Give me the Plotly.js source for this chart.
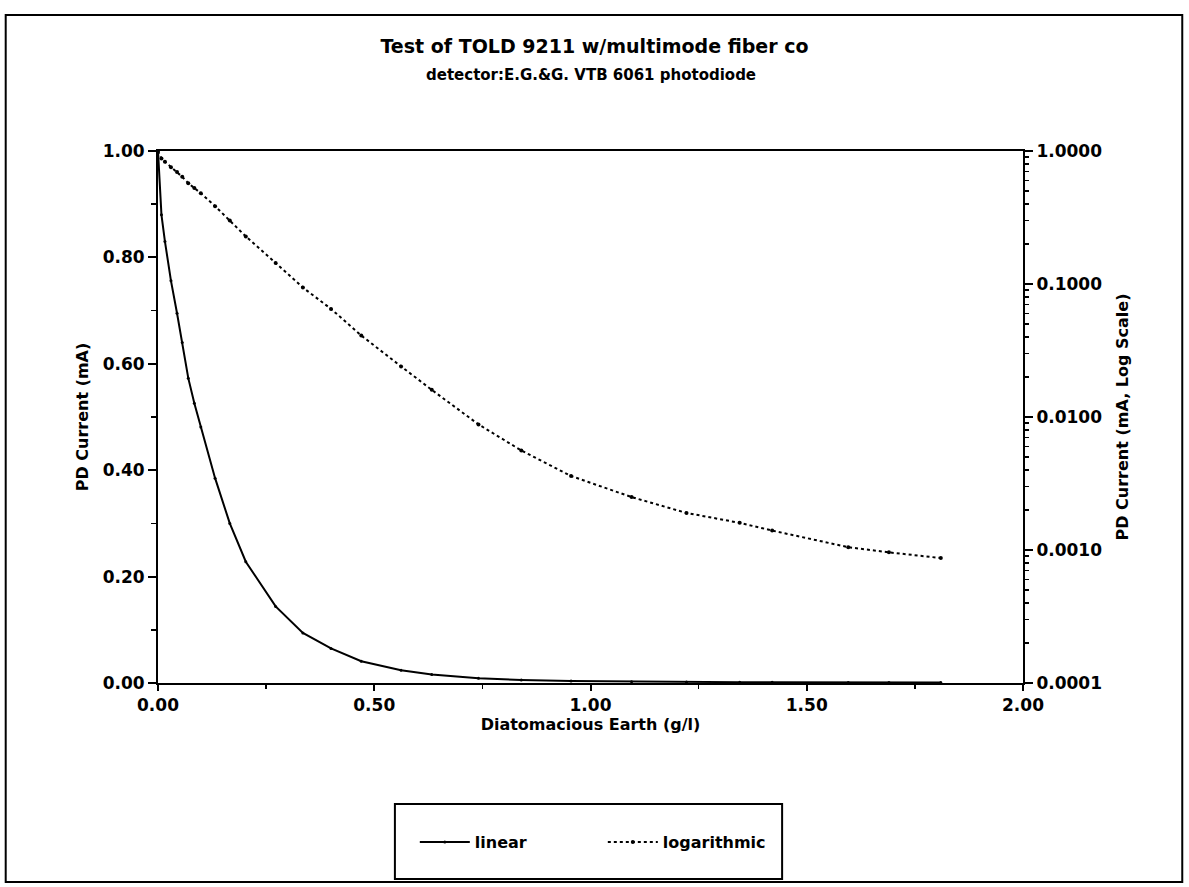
<!DOCTYPE html>
<html>
<head>
<meta charset="utf-8">
<script src="https://cdn.plot.ly/plotly-3.0.1.min.js"></script>
<style>html,body{margin:0;padding:0;background:#fff;}#chart{width:1189px;height:887px;}</style>
</head>
<body>
<div id="chart"></div>
<script>
// Diatomaceous earth concentration (g/l)
const earth = [0.000, 0.008, 0.016, 0.030, 0.044, 0.056, 0.070, 0.084, 0.099, 0.132, 0.166, 0.203, 0.272, 0.335, 0.400, 0.470, 0.562, 0.633, 0.741, 0.840, 0.955, 1.095, 1.222, 1.345, 1.420, 1.596, 1.690, 1.810];
// PD current (mA)
const current = [1.000, 0.880, 0.830, 0.756, 0.695, 0.640, 0.573, 0.526, 0.481, 0.385, 0.300, 0.228, 0.144, 0.094, 0.065, 0.041, 0.024, 0.016, 0.0088, 0.0056, 0.0036, 0.0025, 0.0019, 0.0016, 0.0014, 0.00105, 0.00096, 0.00087];

const seriesNames = ["linear", "logarithmic"];
const xTicks = [0, 0.5, 1.0, 1.5, 2.0];
const yTicks = [0, 0.2, 0.4, 0.6, 0.8, 1.0];
const y2Ticks = [0.0001, 0.001, 0.01, 0.1, 1];

const F = "DejaVu Sans, Liberation Sans, Arial, sans-serif";

const traces = [
  {x: earth, y: current, name: seriesNames[0], type: "scatter", mode: "lines+markers",
   line: {color: "#000", width: 2}, marker: {color: "#000", size: 3}, yaxis: "y"},
  {x: earth, y: current, name: seriesNames[1], type: "scatter", mode: "lines+markers",
   line: {color: "#000", width: 2, dash: "dot"}, marker: {color: "#000", size: 4}, yaxis: "y2"}
];

const layout = {
  width: 1189, height: 887,
  paper_bgcolor: "#fff", plot_bgcolor: "#fff",
  margin: {l: 158, r: 166, t: 151, b: 204},
  font: {family: F, color: "#000"},
  showlegend: true,
  title: {text: "Test of TOLD 9211 w/multimode fiber co", x: 0.5, xanchor: "center",
          y: 1 - 46/887, yref: "container", yanchor: "middle",
          font: {family: F, size: 19, weight: "bold", color: "#000"}},
  annotations: [
    {text: "detector:E.G.&G. VTB 6061 photodiode", xref: "paper", yref: "paper",
     x: 0.5, y: (683-75)/532, xanchor: "center", yanchor: "middle", showarrow: false,
     font: {family: F, size: 15, weight: "bold", color: "#000"}}
  ],
  xaxis: {
    range: [0, 2], tickvals: xTicks, tickformat: ".2f",
    showline: true, linecolor: "#000", linewidth: 2, mirror: true,
    ticks: "outside", ticklen: 6, tickwidth: 2, tickcolor: "#000",
    minor: {dtick: 0.25, ticks: "outside", ticklen: 4, tickwidth: 1.5, tickcolor: "#000"},
    showgrid: false, zeroline: false,
    tickfont: {family: F, size: 17, weight: "bold"},
    title: {text: "Diatomacious Earth (g/l)", standoff: 1, font: {family: F, size: 16, weight: "bold"}}
  },
  yaxis: {
    range: [0, 1], tickvals: yTicks, tickformat: ".2f",
    showline: true, linecolor: "#000", linewidth: 2,
    ticks: "outside", ticklen: 8, tickwidth: 2, tickcolor: "#000",
    minor: {dtick: 0.1, ticks: "outside", ticklen: 5, tickwidth: 1.5, tickcolor: "#000"},
    showgrid: false, zeroline: false,
    tickfont: {family: F, size: 17, weight: "bold"},
    title: {text: "PD Current (mA)", standoff: 10, font: {family: F, size: 16, weight: "bold"}}
  },
  yaxis2: {
    type: "log", range: [-4, 0], overlaying: "y", side: "right",
    tickvals: y2Ticks, tickformat: ".4f",
    showline: true, linecolor: "#000", linewidth: 2,
    ticks: "outside", ticklen: 8, tickwidth: 2, tickcolor: "#000",
    minor: {dtick: "D1", ticks: "outside", ticklen: 4, tickwidth: 1.5, tickcolor: "#000"},
    showgrid: false, zeroline: false,
    tickfont: {family: F, size: 17, weight: "bold"},
    title: {text: "PD Current (mA, Log Scale)", standoff: 16, font: {family: F, size: 16, weight: "bold"}}
  },
  legend: {
    orientation: "h", x: (416-158)/869, xanchor: "left", y: (683-842)/532, yanchor: "middle",
    bgcolor: "rgba(0,0,0,0)", borderwidth: 0,
    itemwidth: 50, entrywidth: 123, entrywidthmode: "pixels",
    font: {family: F, size: 16, weight: "bold", color: "#000"}
  },
  shapes: [
    {type: "rect", xref: "paper", yref: "paper", x0: (396-158)/869, x1: (785-158)/869,
     y0: (683-879)/532, y1: (683-804)/532, line: {color: "#000", width: 2}},
    {type: "rect", xref: "paper", yref: "paper", x0: (5-158)/869, x1: (1187-158)/869,
     y0: (683-882)/532, y1: (683-15)/532, line: {color: "#000", width: 2}}
  ]
};

Plotly.newPlot("chart", traces, layout, {displayModeBar: false, staticPlot: true});
</script>
</body>
</html>
